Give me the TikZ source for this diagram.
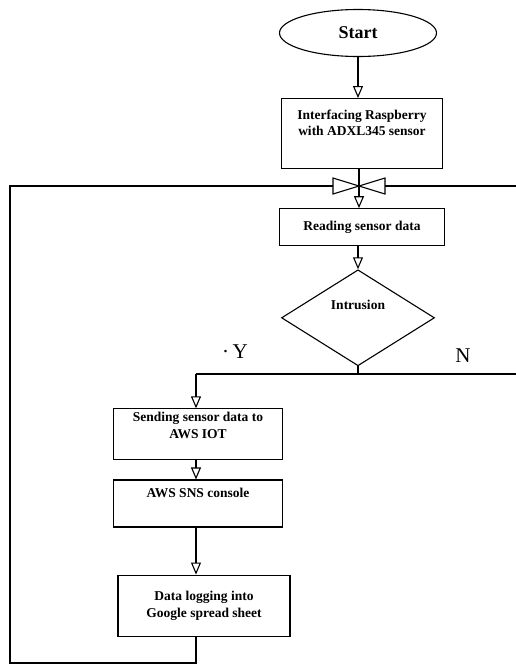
\documentclass[tikz,border=0pt]{standalone}
\usepackage{fontspec}
\setmainfont{Liberation Serif}
\usetikzlibrary{arrows.meta,positioning,shapes.geometric}

\begin{document}
\begin{tikzpicture}[x=1pt,y=-1pt,
  box/.style={draw,line width=1.1pt,inner sep=0pt,align=center,font=\bfseries\fontsize{13.5}{16.5}\selectfont},
  arr/.style={-{Triangle[open,length=12pt,width=10pt]},line width=1.1pt},
  ln/.style={line width=1.1pt},
  yn/.style={font=\fontsize{21}{24}\selectfont}
]
\useasboundingbox (0,0) rectangle (516,664);
\node[box,ellipse,minimum width=157pt,minimum height=47pt,font=\bfseries\fontsize{18}{20}\selectfont] (start) at (358,33) {Start};
\node[box,minimum width=161pt,minimum height=70pt,below=41pt of start,xshift=4pt] (iface) {Interfacing Raspberry\\with ADXL345 sensor\\[5pt]\mbox{}};
\node[box,minimum width=165pt,minimum height=37pt,below=39pt of iface] (read) {Reading sensor data};
\node[box,diamond,minimum width=153pt,minimum height=96pt,below=23pt of read,xshift=-4pt] (intr) {\raisebox{25pt}{Intrusion}};
\node[box,minimum width=169pt,minimum height=51pt,below=42pt of intr,xshift=-160pt] (send) {Sending sensor data to\\AWS IOT\\[2pt]\mbox{}};
\node[box,minimum width=169pt,minimum height=47pt,below=19pt of send] (sns) {AWS SNS console\\[4pt]\mbox{}};
\node[box,minimum width=172pt,minimum height=61pt,below=47pt of sns,xshift=6pt] (log) {Data logging into\\Google spread sheet};
\node[yn] (yes) at (235,352) {·\,Y};
\node[yn] (no) at (463,356) {N};
% merge point and loop corners
\coordinate (merge) at (359,186);
\coordinate (topl) at (10,186);
\coordinate (topr) at (516,186);
\coordinate (botl) at (10,663);
\coordinate (split) at (intr.south |- 0,374);
\coordinate (splitl) at (196,374);
\coordinate (splitr) at (516,374);
% bowtie
\draw[ln,fill=white] ([xshift=-26pt,yshift=-8pt]merge) -- ([xshift=-26pt,yshift=8pt]merge) -- (merge) -- cycle;
\draw[ln,fill=white] ([xshift=26pt,yshift=-8pt]merge) -- ([xshift=26pt,yshift=8pt]merge) -- (merge) -- cycle;
\draw[arr] (start.south) -- (start.south |- iface.north);
\draw[ln] (merge |- iface.south) -- (merge);
\draw[arr] (merge) -- (merge |- read.north);
\draw[arr] (read.south -| intr.north) -- (intr.north);
\draw[ln] (intr.south) -- (split);
\draw[ln] (splitl) -- (splitr);
\draw[arr] (splitl) -- (splitl |- send.north);
\draw[arr] (send.south -| splitl) -- (splitl |- sns.north);
\draw[arr] (sns.south -| splitl) -- (splitl |- log.north);
\draw[ln] (splitl |- log.south) -- (splitl |- botl) -- (botl) -- (topl) -- ([xshift=-26pt]merge);
\draw[ln] ([xshift=26pt]merge) -- (topr);
\end{tikzpicture}
\end{document}
